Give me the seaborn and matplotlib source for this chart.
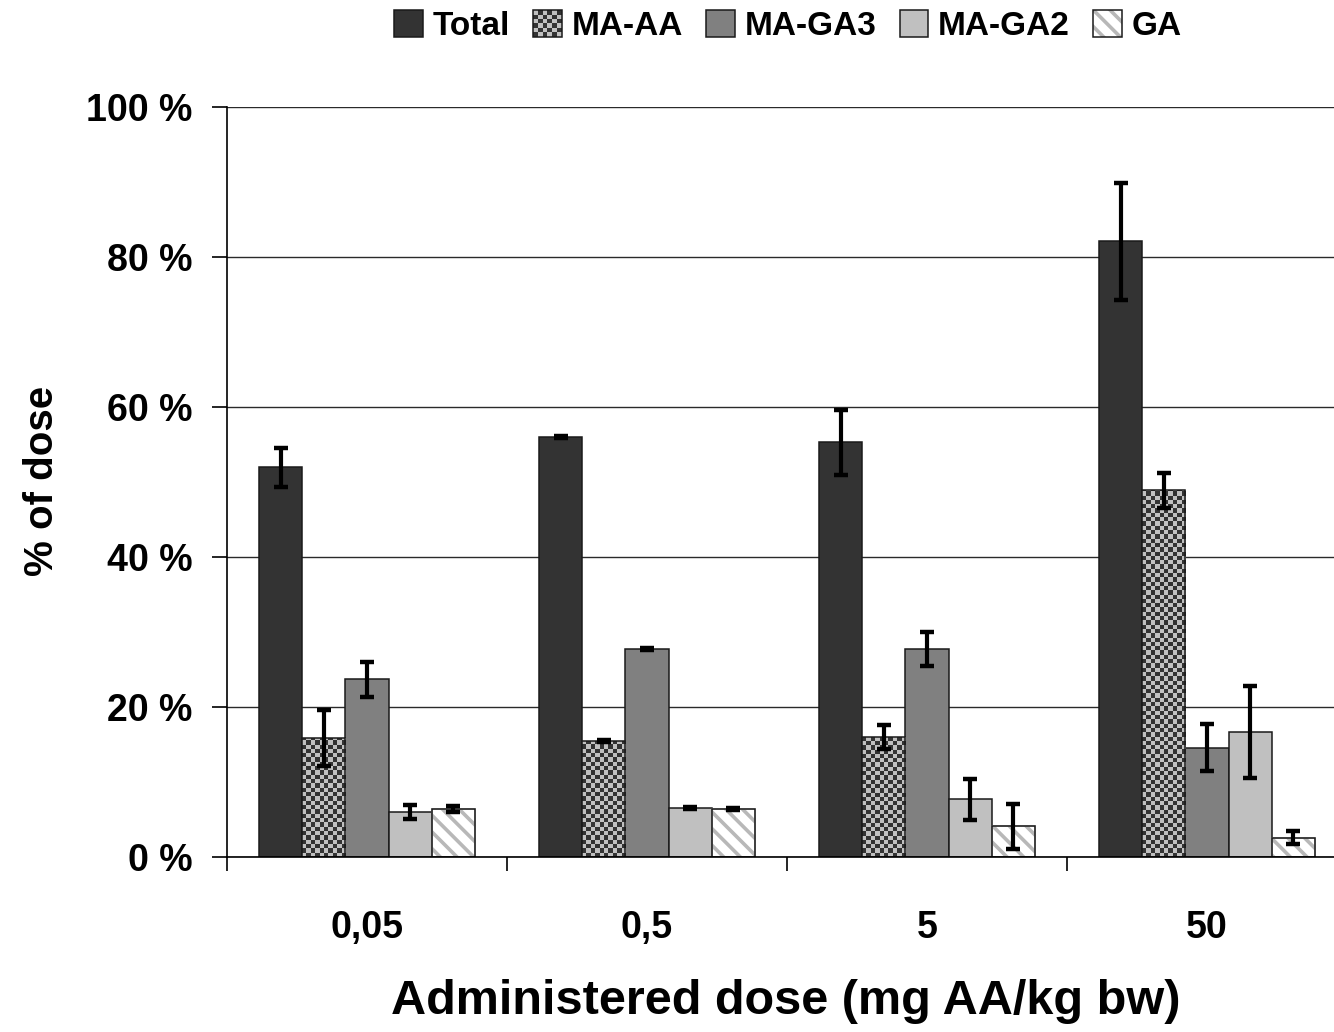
import numpy as np
import pandas as pd
import matplotlib
matplotlib.use("Agg")
import matplotlib.pyplot as plt
import seaborn as sns
from matplotlib.patches import Rectangle, Patch
from matplotlib.colors import ListedColormap
from matplotlib.legend_handler import HandlerBase
from matplotlib.ticker import FixedLocator

# ---------------- data ----------------
doses = ["0,05", "0,5", "5", "50"]
series = ["Total", "MA-AA", "MA-GA3", "MA-GA2", "GA"]
total = [52.0, 56.0, 55.3, 82.1]
total_err = [2.6, 0.12, 4.3, 7.8]
ma_aa = [15.9, 15.5, 16.0, 48.9]
ma_aa_err = [3.7, 0.12, 1.6, 2.3]
ma_ga3 = [23.7, 27.7, 27.7, 14.6]
ma_ga3_err = [2.3, 0.12, 2.25, 3.1]
ma_ga2 = [6.0, 6.5, 7.7, 16.7]
ma_ga2_err = [0.9, 0.12, 2.7, 6.1]
ga = [6.4, 6.4, 4.1, 2.6]
ga_err = [0.45, 0.12, 3.0, 0.9]
y_ticks = [0, 20, 40, 60, 80, 100]
y_tick_labels = ["0 %", "20 %", "40 %", "60 %", "80 %", "100 %"]

values = {"Total": total, "MA-AA": ma_aa, "MA-GA3": ma_ga3, "MA-GA2": ma_ga2, "GA": ga}
errors = {"Total": total_err, "MA-AA": ma_aa_err, "MA-GA3": ma_ga3_err,
          "MA-GA2": ma_ga2_err, "GA": ga_err}

df = pd.DataFrame([(d, s, values[s][i]) for s in series for i, d in enumerate(doses)],
                  columns=["dose", "series", "value"])

# ---------------- style ----------------
sns.set_style("white")
fam = ["Liberation Sans", "DejaVu Sans"]
plt.rcParams["font.family"] = fam
plt.rcParams["hatch.linewidth"] = 2.6
for k in ["text.color", "axes.labelcolor", "xtick.color", "ytick.color"]:
    plt.rcParams[k] = "black"

DARK = "#333333"
MID = "#808080"
LIGHT = "#c0c0c0"
EDGE = "#1a1a1a"
palette = {"Total": DARK, "MA-AA": LIGHT, "MA-GA3": MID, "MA-GA2": LIGHT, "GA": "white"}

fig = plt.figure(figsize=(13.34, 10.32), dpi=100)
W, H = 1334, 1032
ax = fig.add_axes([227 / W, 175 / H, 1120 / W, 750 / H])

sns.barplot(data=df, x="dose", y="value", hue="series", order=doses, hue_order=series,
            palette=palette, saturation=1, width=0.768, errorbar=None,
            edgecolor=EDGE, linewidth=1.1, legend=False, ax=ax)

ax.set_xlim(-0.5, 3.5)
ax.set_ylim(0, 100)

# pixel -> data scale
p0 = ax.transData.transform((0, 0))
p1 = ax.transData.transform((1, 1))
px_x = p1[0] - p0[0]
px_y = p1[1] - p0[1]

cmap = ListedColormap([LIGHT, DARK])
cell = 4.3
for cont, s in zip(ax.containers, series):
    for j, p in enumerate(cont.patches):
        x0, w, h = p.get_x(), p.get_width(), p.get_height()
        if s == "MA-AA":
            dx, dy = cell / px_x, cell / px_y
            nx = max(1, int(round(w / dx)))
            ny = max(1, int(np.ceil(h / dy)))
            arr = np.add.outer(np.arange(ny), np.arange(nx)) % 2
            im = ax.imshow(arr, extent=(x0, x0 + w, 0, ny * dy), origin="lower",
                           cmap=cmap, interpolation="nearest", aspect="auto", zorder=1.5)
            im.set_clip_path(p)
            p.set_facecolor("none")
            p.set_zorder(1.6)
        if s == "GA":
            p.set_edgecolor("#b8b8b8")
            p.set_hatch("\\\\")
            ax.add_patch(Rectangle((x0, 0), w, h, facecolor="none", edgecolor=EDGE,
                                   linewidth=1.1, zorder=p.get_zorder() + 0.1))
        ax.errorbar(x0 + w / 2, h, yerr=errors[s][j], fmt="none", ecolor="black",
                    elinewidth=3, capsize=5, capthick=3.2, zorder=5)

ax.set_xlim(-0.5, 3.5)
ax.set_ylim(0, 100)

# grid & spines
ax.yaxis.grid(True, color="#2a2a2a", linewidth=1.0)
ax.set_axisbelow(True)
for side in ["top", "right"]:
    ax.spines[side].set_visible(False)
for side in ["left", "bottom"]:
    ax.spines[side].set_color("black")
    ax.spines[side].set_linewidth(1.2)

ax.set_yticks(y_ticks)
ax.set_yticklabels(y_tick_labels, fontsize=27, fontweight="bold")
ax.tick_params(axis="y", length=10.8, width=1.2, pad=14, color="black", left=True)

ax.set_xticks(range(len(doses)))
ax.set_xticklabels(doses, fontsize=27, fontweight="bold")
ax.tick_params(axis="x", which="major", length=0, pad=38)
ax.xaxis.set_minor_locator(FixedLocator([-0.5, 0.5, 1.5, 2.5]))
ax.tick_params(axis="x", which="minor", length=10, width=1.2, color="black", bottom=True)

ax.set_xlabel("Administered dose (mg AA/kg bw)", fontsize=35, fontweight="bold")
ax.xaxis.set_label_coords(0.499, -0.163)
ax.set_ylabel("% of dose", fontsize=29, fontweight="bold")
ax.yaxis.set_label_coords(-0.148, 0.501)


# ---------------- legend ----------------
class CheckerHandler(HandlerBase):
    def create_artists(self, legend, orig_handle, xdescent, ydescent, width, height,
                       fontsize, trans):
        arts = [Rectangle((-xdescent, -ydescent), width, height, facecolor=LIGHT,
                          edgecolor="none", transform=trans)]
        n = 6
        cw, ch = width / n, height / n
        for r in range(n):
            for c in range(n):
                if (r + c) % 2 == 0:
                    arts.append(Rectangle((-xdescent + c * cw, -ydescent + r * ch), cw, ch,
                                          facecolor=DARK, edgecolor="none", transform=trans))
        arts.append(Rectangle((-xdescent, -ydescent), width, height, facecolor="none",
                              edgecolor=EDGE, linewidth=1.1, transform=trans))
        return arts


class HatchHandler(HandlerBase):
    def create_artists(self, legend, orig_handle, xdescent, ydescent, width, height,
                       fontsize, trans):
        a = Rectangle((-xdescent, -ydescent), width, height, facecolor="white",
                      edgecolor="#b8b8b8", hatch="\\\\", linewidth=0, transform=trans)
        b = Rectangle((-xdescent, -ydescent), width, height, facecolor="none",
                      edgecolor=EDGE, linewidth=1.1, transform=trans)
        return [a, b]


class CheckerKey(Patch):
    pass


class HatchKey(Patch):
    pass


handles = [
    Patch(facecolor=DARK, edgecolor=EDGE, linewidth=1.1),
    CheckerKey(),
    Patch(facecolor=MID, edgecolor=EDGE, linewidth=1.1),
    Patch(facecolor=LIGHT, edgecolor=EDGE, linewidth=1.1),
    HatchKey(),
]
fig.legend(handles, series, loc="center", bbox_to_anchor=(788 / W, 1 - 26 / H), ncol=5,
           frameon=False, prop={"size": 24, "weight": "bold"},
           handlelength=0.85, handleheight=0.85, handletextpad=0.3, columnspacing=0.7,
           borderpad=0, handler_map={CheckerKey: CheckerHandler(), HatchKey: HatchHandler()})

fig.savefig("out.png", dpi=100)
